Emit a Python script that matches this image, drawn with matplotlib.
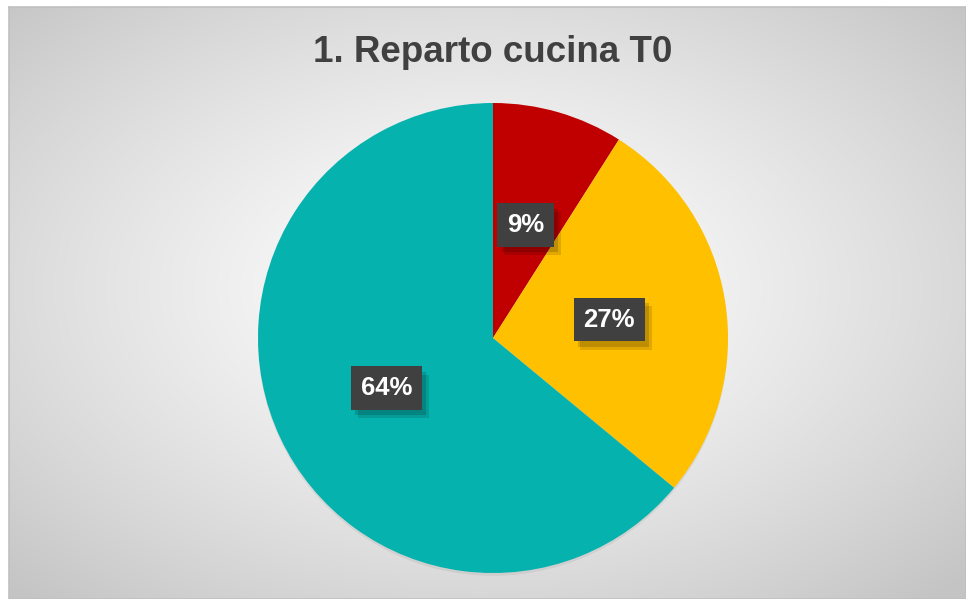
import numpy as np
import matplotlib.pyplot as plt
from matplotlib import patheffects as pe

title = "1. Reparto cucina T0"
labels = ["A", "B", "C"]
values = [9, 27, 64]
colors = ["#C00000", "#FFC000", "#06B2AE"]

W, H = 966, 599
plt.rcParams['font.family'] = ['Liberation Sans', 'DejaVu Sans']

fig = plt.figure(figsize=(W / 100, H / 100), dpi=100)
fig.patch.set_facecolor('white')

# chart area background: radial gradient white -> grey
x0, y0 = 9, 7
bg = fig.add_axes([x0 / W, 0, (W - x0) / W, (H - y0) / H])
nx, ny = W - x0, H - y0
xx, yy = np.meshgrid(np.linspace(-1, 1, nx), np.linspace(-1, 1, ny))
t = np.sqrt(((xx + 0.02) / 1.0) ** 2 + ((yy + 0.05) / 1.0) ** 2) / np.sqrt(2)
t = np.clip(t, 0, 1)
shade = 1.0 - (1.0 - 0.77) * t ** 1.3
bg.imshow(np.dstack([shade, shade, shade]), aspect='auto', extent=[0, 1, 0, 1])
bg.set_xlim(0, 1)
bg.set_ylim(0, 1)
bg.set_xticks([])
bg.set_yticks([])
for s in bg.spines.values():
    s.set_color('#c0c0c0')
    s.set_linewidth(1.2)

# pie
cx, cy, r = 493, 338, 235
ax = fig.add_axes([(cx - r) / W, (H - cy - r) / H, 2 * r / W, 2 * r / H])
ax.set_facecolor('none')
wedges, texts, autotexts = ax.pie(
    values, colors=colors, startangle=90, counterclock=False,
    autopct='%d%%', pctdistance=0.5, radius=1,
    wedgeprops=dict(linewidth=0),
    textprops=dict(color='white', fontsize=18.5, fontweight='bold'))
for w in wedges:
    w.set_path_effects([pe.SimplePatchShadow(offset=(0, -2), shadow_rgbFace='black', alpha=0.06), pe.Normal()])
for t_ in autotexts:
    t_.set_bbox(dict(boxstyle='square,pad=0.38', facecolor='#404040',
                     edgecolor='none', linewidth=0))
    t_.get_bbox_patch().set_path_effects([
        pe.SimplePatchShadow(offset=(5, -6), shadow_rgbFace='black', alpha=0.12),
        pe.SimplePatchShadow(offset=(3, -4), shadow_rgbFace='black', alpha=0.15),
        pe.Normal()])
ax.set_xlim(-1, 1)
ax.set_ylim(-1, 1)
ax.axis('off')

fig.text(493 / W, 1 - 52 / H, title, ha='center', va='center',
         fontsize=26.5, fontweight='bold', color='#404040')

fig.savefig('out.png', dpi=100)
